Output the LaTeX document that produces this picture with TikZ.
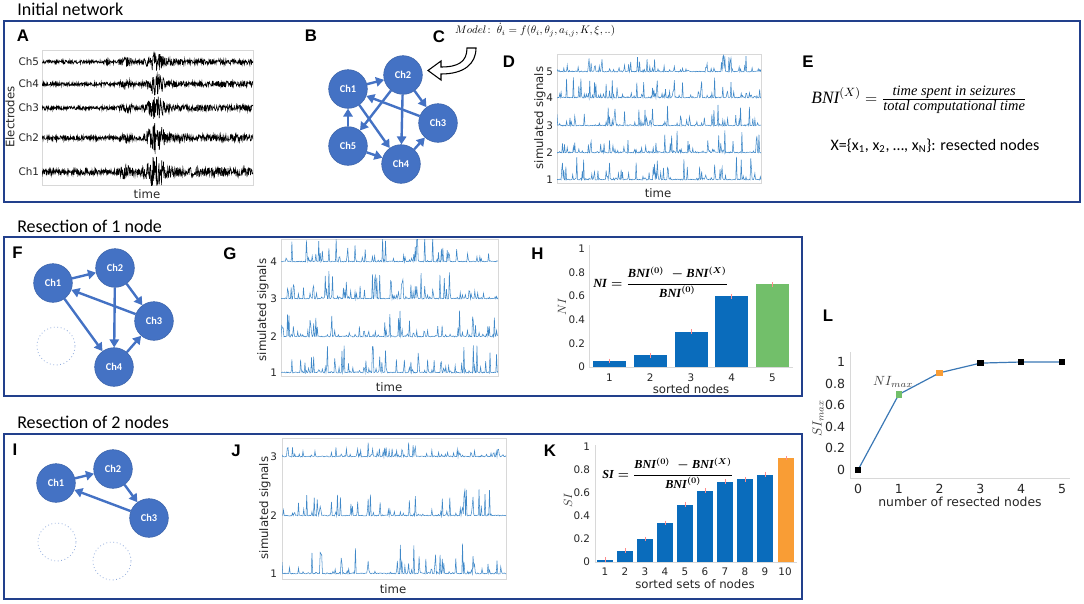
\documentclass[tikz,border=0pt]{standalone}
\usepackage[no-math]{fontspec}
\usepackage{amsmath}
\usepackage{graphicx}
\setmainfont{Carlito}
\newfontfamily\arialf{Liberation Sans}
\newfontfamily\dejavu{DejaVu Sans}
\newfontfamily\cambr{Liberation Serif}
\usetikzlibrary{arrows.meta}
\definecolor{nodeblue}{HTML}{4472C4}
\definecolor{nodeedge}{HTML}{3A62A8}
\definecolor{boxblue}{HTML}{22408C}
\definecolor{barblue}{HTML}{0A6CBC}
\definecolor{bargreen}{HTML}{72BF6A}
\definecolor{barorange}{HTML}{F99D35}
\definecolor{sigblue}{HTML}{3F88C8}
\definecolor{lineblue}{HTML}{3B78B5}
\definecolor{ghostblue}{HTML}{8FAADC}
\definecolor{framegrey}{HTML}{D8D8D8}
\definecolor{labgrey}{HTML}{404040}
\newcommand\eegtrace[5]{%
  \pgfmathsetseed{#2}%
  \draw[eeg] plot[domain=42:253,samples=600] (\x,{#1+(#3+#4*exp(-min(pow((\x-156)/9,2),15))+#5*exp(-min(pow((\x-127)/6,2),15))+0.6*#3*(\x>168))*(2*rnd-1)});
}
\newcommand\sigtrace[6]{%
  \pgfmathsetseed{#5}%
  \draw[sig] plot[domain=#1:#2,samples=300] (\x,{#3-#4*pow(rnd,#6)-0.9*rnd});
}
\newcommand\indexformula[2]{\resizebox{#2}{!}{\cambr\bfseries\itshape\fontsize{11.5}{13}\selectfont\boldmath
  $\mbox{#1} = \dfrac{\mbox{BNI}^{(0)}\;-\mbox{BNI}^{(X)}}{\mbox{BNI}^{(0)}}$}}
\begin{document}
\begin{tikzpicture}[x=0.75pt,y=-0.75pt,
  ttl/.style={font=\fontsize{13.5}{15}\selectfont, anchor=base west, inner sep=0pt},
  plabel/.style={font=\arialf\bfseries\fontsize{12.6}{14}\selectfont, inner sep=0pt},
  panelbox/.style={draw=boxblue, line width=1.5pt},
  ticklab/.style={font=\dejavu\fontsize{7.8}{9}\selectfont, inner sep=0.5pt, text=black!85},
  bigtick/.style={font=\dejavu\fontsize{9.4}{11}\selectfont, inner sep=0.5pt, text=black!85},
  axlab/.style={font=\dejavu\fontsize{8.8}{10}\selectfont, inner sep=0pt, text=black!85},
  eeg/.style={black, line width=0.45pt},
  sig/.style={sigblue, line width=0.4pt},
  pframe/.style={draw=framegrey, line width=0.5pt},
  axisline/.style={draw=framegrey, line width=0.7pt},
  chnode/.style={circle, fill=nodeblue, draw=nodeedge, line width=0.4pt, minimum size=29pt, inner sep=0pt, text=white, font=\bfseries\fontsize{7.8}{9}\selectfont},
  ghostnode/.style={circle, draw=ghostblue, dotted, line width=0.6pt, minimum size=28.5pt, inner sep=0pt},
  link/.style={draw=nodeblue, line width=1.8pt, -{Triangle[length=6pt,width=7pt]}},
  errbar/.style={draw=red!45, line width=0.4pt},
  mathlab/.style={text=labgrey, inner sep=0pt},
  sqmark/.style={rectangle, minimum size=4.8pt, inner sep=0pt},
]
\useasboundingbox (0,0) rectangle (1084,603);

% ---------- titles and boxes
\node[ttl] (t1) at (17,16) {Initial network};
\node[ttl] (t2) at (17,232) {Resection of 1 node};
\node[ttl] (t3) at (17,428) {Resection of 2 nodes};
\draw[panelbox] (4,21) rectangle (1080,202);
\draw[panelbox] (4,237) rectangle (802,396);
\draw[panelbox] (4,434) rectangle (802,599);

% ---------- A
\node[plabel] (la) at (23,36) {A};
\draw[pframe] (42,50) rectangle (253,185);
\begin{scope}
\clip (42,50) rectangle (253,185);
\eegtrace{62}{11}{1.8}{9}{3}
\eegtrace{84}{12}{1.8}{10}{3.5}
\eegtrace{108}{13}{1.9}{11}{4}
\eegtrace{138}{14}{2.2}{14}{3}
\eegtrace{172}{15}{3.0}{15}{6}
\end{scope}
\foreach \n/\y in {5/62,4/84,3/108,2/138,1/172}
  \node[ticklab, anchor=east] (ach\n) at (40,\y) {Ch\n};
\node[axlab, rotate=90] (aylab) at (10,117) {Electrodes};
\node[axlab] (axlabel) at (147,194) {time};

% ---------- B
\node[plabel] (lb) at (311,36) {B};
\node[chnode] (b1) at (348,89) {Ch1};
\node[chnode] (b2) at (403,75) {Ch2};
\node[chnode] (b3) at (438,123) {Ch3};
\node[chnode] (b4) at (401,164) {Ch4};
\node[chnode] (b5) at (348,146) {Ch5};
\draw[link] (b1) -- (b2);
\draw[link] (b2) -- (b3);
\draw[link] (b2) -- (b4);
\draw[link] (b2) -- (b5);
\draw[link] (b1) -- (b4);
\draw[link] (b3) -- (b1);
\draw[link] (b5) -- (b1);
\draw[link] (b5) -- (b4);
\draw[link] (b4) -- (b3);

% ---------- C
\node[plabel] (lc) at (439,37) {C};
\node[inner sep=0pt] (model) at (535,30) {\resizebox{120pt}{!}{$Model\colon\ \dot{\theta}_i = f(\theta_i,\theta_j,a_{i,j},K,\xi,..)$}};
\draw[fill=white, line width=0.8pt, line join=miter]
  (467,48) .. controls (467,62) and (458,67) .. (441,67) -- (441,61) -- (428,70.5) -- (441,80) -- (441,74)
  .. controls (464,74) and (476,64) .. (476,48) -- cycle;

% ---------- D
\node[plabel] (ld) at (509,62) {D};
\draw[pframe] (557,54) rectangle (761,183);
\begin{scope}
\clip (557,54) rectangle (761,183);
\sigtrace{557}{761}{72}{16}{21}{12}
\sigtrace{557}{761}{98}{21}{22}{11}
\sigtrace{557}{761}{126}{21}{23}{11}
\sigtrace{557}{761}{153}{22}{24}{11}
\sigtrace{557}{761}{180}{23}{25}{11}
\end{scope}
\foreach \n/\y in {5/72,4/98,3/126,2/153,1/180}
  \node[ticklab, anchor=east] (dt\n) at (554,\y) {\n};
\node[axlab, rotate=90] (dylab) at (540,118) {simulated signals};
\node[axlab] (dxlab) at (658,193) {time};

% ---------- E
\node[plabel] (le) at (808,62) {E};
\node[inner sep=0pt] (bni) at (919,100) {{\cambr\itshape\fontsize{13}{15}\selectfont
  $\mbox{BNI}^{(X)} = \frac{\mbox{\fontsize{10.8}{12}\selectfont time spent in seizures}}{\mbox{\fontsize{10.8}{12}\selectfont total computational time}}$}};
\node[font=\fontsize{12}{14}\selectfont, inner sep=0pt] (xset) at (935,146) {X=\{x\textsubscript{1}, x\textsubscript{2}, …, x\textsubscript{N}\}: resected nodes};

% ---------- F
\node[plabel] (lf) at (17.5,253) {F};
\node[chnode] (f1) at (53,283) {Ch1};
\node[chnode] (f2) at (115,268) {Ch2};
\node[chnode] (f3) at (154,321) {Ch3};
\node[chnode] (f4) at (114,367) {Ch4};
\node[ghostnode] (f5) at (56,346) {};
\draw[link] (f1) -- (f2);
\draw[link] (f2) -- (f3);
\draw[link] (f2) -- (f4);
\draw[link] (f1) -- (f4);
\draw[link] (f3) -- (f1);
\draw[link] (f4) -- (f3);

% ---------- G
\node[plabel] (lg) at (230,254) {G};
\draw[pframe] (281,239) rectangle (498,376);
\begin{scope}
\clip (281,239) rectangle (498,376);
\sigtrace{281}{498}{262}{26}{31}{11}
\sigtrace{281}{498}{299}{28}{32}{11}
\sigtrace{281}{498}{337}{26}{33}{11}
\sigtrace{281}{498}{373}{28}{34}{11}
\end{scope}
\foreach \n/\y in {4/262,3/299,2/337,1/373}
  \node[ticklab, anchor=east] (gt\n) at (278,\y) {\n};
\node[axlab, rotate=90] (gylab) at (263,310) {simulated signals};
\node[axlab] (gxlab) at (389,387) {time};

% ---------- H
\node[plabel] (lh) at (537.5,254) {H};
\draw[axisline] (589,245) -- (589,367) -- (793,367);
\foreach \v [count=\i] in {0.05,0.1,0.3,0.6} {
  \fill[barblue] ({609.5+40.75*(\i-1)-16.5},367) rectangle ({609.5+40.75*(\i-1)+16.5},{367-118*\v});
  \draw[errbar] ({609.5+40.75*(\i-1)},{367-118*(\v+0.02)}) -- ({609.5+40.75*(\i-1)},{367-118*(\v-0.02)});
}
\fill[bargreen] (756,367) rectangle (789,{367-118*0.7});
\draw[errbar] (772.5,{367-118*0.72}) -- (772.5,{367-118*0.68});
\foreach \v/\t [count=\i] in {0/0,0.2/0.2,0.4/0.4,0.6/0.6,0.8/0.8,1/1}
  \node[ticklab, anchor=east] (hy\i) at (586,{367-118*\v}) {\t};
\foreach \i in {1,...,5}
  \node[ticklab] (hx\i) at ({609.5+40.75*(\i-1)},378) {\i};
\node[axlab] (hxlab) at (691,389) {sorted nodes};
\node[mathlab, rotate=90] (hylab) at (562,307) {\fontsize{9}{10}\selectfont$NI$};
\node[inner sep=0pt, anchor=west] (nif) at (593,282) {\indexformula{NI}{101pt}};

% ---------- I
\node[plabel] (li) at (15,450) {I};
\node[chnode] (i1) at (56,483) {Ch1};
\node[chnode] (i2) at (113,469) {Ch2};
\node[chnode] (i3) at (149,518) {Ch3};
\node[ghostnode] (i4) at (57,542) {};
\node[ghostnode] (i5) at (112,561) {};
\draw[link] (i1) -- (i2);
\draw[link] (i2) -- (i3);
\draw[link] (i3) -- (i1);

% ---------- J
\node[plabel] (lj) at (236,451) {J};
\draw[pframe] (282,438) rectangle (506,579);
\begin{scope}
\clip (282,438) rectangle (506,579);
\sigtrace{282}{506}{457}{14}{41}{12}
\sigtrace{282}{506}{516}{26}{42}{14}
\sigtrace{282}{506}{574}{32}{43}{14}
\end{scope}
\foreach \n/\y in {3/457,2/516,1/574}
  \node[ticklab, anchor=east] (jt\n) at (278,\y) {\n};
\node[axlab, rotate=90] (jylab) at (265,508) {simulated signals};
\node[axlab] (jxlab) at (393,589) {time};

% ---------- K
\node[plabel] (lk) at (550,451) {K};
\draw[axisline] (595,445) -- (595,562) -- (797,562);
\foreach \v [count=\i] in {0.02,0.1,0.2,0.34,0.5,0.62,0.70,0.72,0.76} {
  \fill[barblue] ({605+20*(\i-1)-8},562) rectangle ({605+20*(\i-1)+8},{562-115*\v});
  \draw[errbar] ({605+20*(\i-1)},{562-115*(\v+0.02)}) -- ({605+20*(\i-1)},{562-115*(\v-0.02)});
}
\fill[barorange] (778,562) rectangle (794,{562-115*0.905});
\draw[errbar] (786,{562-115*0.92}) -- (786,{562-115*0.89});
\foreach \v/\t [count=\i] in {0/0,0.2/0.2,0.4/0.4,0.6/0.6,0.8/0.8,1/1}
  \node[ticklab, anchor=east] (ky\i) at (591,{562-115*\v}) {\t};
\foreach \i in {1,...,10}
  \node[ticklab] (kx\i) at ({605+20*(\i-1)},572) {\i};
\node[axlab] (kxlab) at (695,584) {sorted sets of nodes};
\node[mathlab, rotate=90] (kylab) at (568,500) {\fontsize{9}{10}\selectfont$SI$};
\node[inner sep=0pt, anchor=west] (sif) at (602,473) {\indexformula{SI}{98pt}};

% ---------- L
\node[plabel] (ll) at (828,316) {L};
\draw[axisline] (850,352) -- (850,478) -- (1070,478);
\foreach \v/\t [count=\i] in {0/0,0.2/0.2,0.4/0.4,0.6/0.6,0.8/0.8,1/1}
  \node[bigtick, anchor=east] (ly\i) at (846,{470-108*\v}) {\t};
\foreach \i in {0,...,5}
  \node[bigtick] (lx\i) at ({858+40.8*\i},489) {\i};
\node[font=\dejavu\fontsize{9.3}{11}\selectfont, text=black!85, inner sep=0pt] (lxlab) at (960,502) {number of resected nodes};
\node[mathlab, rotate=90] (lylab) at (818,418) {\fontsize{10}{11}\selectfont$SI_{max}$};
\node[mathlab] (nimax) at (893,382) {\fontsize{10}{11}\selectfont$NI_{max}$};
\coordinate (p0) at (858,470);
\coordinate (p1) at (898.8,394.4);
\coordinate (p2) at (939.6,372.8);
\coordinate (p3) at (980.4,363.1);
\coordinate (p4) at (1021.2,362);
\coordinate (p5) at (1062,362);
\draw[lineblue, line width=0.9pt] (p0) -- (p1) -- (p2) -- (p3) -- (p4) -- (p5);
\node[sqmark, fill=black] (m0) at (p0) {};
\node[sqmark, fill=bargreen] (m1) at (p1) {};
\node[sqmark, fill=barorange] (m2) at (p2) {};
\node[sqmark, fill=black] (m3) at (p3) {};
\node[sqmark, fill=black] (m4) at (p4) {};
\node[sqmark, fill=black] (m5) at (p5) {};
\end{tikzpicture}
\end{document}
